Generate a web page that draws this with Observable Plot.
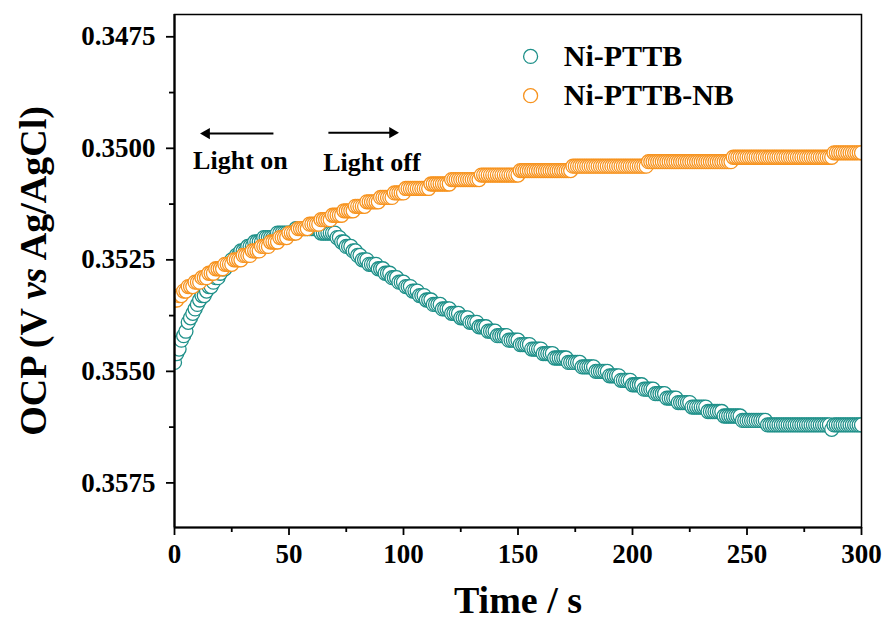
<!DOCTYPE html>
<html><head><meta charset="utf-8">
<script src="https://cdn.jsdelivr.net/npm/d3@7"></script>
<script src="https://cdn.jsdelivr.net/npm/@observablehq/plot@0.6"></script>
<style>html,body{margin:0;padding:0;background:#fff;}</style>
</head><body><div id="chart"></div>
<script>
const seriesNames = ["Ni-PTTB", "Ni-PTTB-NB"];
const seriesColors = ["#1e9089", "#f7931e"];
const timeS = d3.range(0, 301, 1);

const ocpNiPTTB = [
0.3548,0.3546,0.3545,0.3543,0.3542,0.3541,0.3539,0.3538,0.3537,0.3536,
0.3535,0.3534,0.3533,0.3533,0.3532,0.3531,0.3531,0.3530,0.3529,0.3529,
0.3528,0.3527,0.3527,0.3526,0.3526,0.3525,0.3525,0.3524,0.3524,0.3523,
0.3523,0.3523,0.3522,0.3522,0.3522,0.3521,0.3521,0.3521,0.3521,0.3520,
0.3520,0.3520,0.3520,0.3520,0.3520,0.3519,0.3519,0.3519,0.3519,0.3519,
0.3519,0.3519,0.3519,0.3518,0.3518,0.3518,0.3518,0.3518,0.3518,0.3518,
0.3518,0.3518,0.3518,0.3518,0.3519,0.3519,0.3519,0.3519,0.3519,0.3519,
0.3519,0.3520,0.3520,0.3521,0.3521,0.3522,0.3522,0.3522,0.3523,0.3523,
0.3524,0.3524,0.3525,0.3525,0.3525,0.3526,0.3526,0.3526,0.3526,0.3527,
0.3527,0.3527,0.3528,0.3528,0.3528,0.3529,0.3529,0.3529,0.3530,0.3530,
0.3530,0.3531,0.3531,0.3531,0.3532,0.3532,0.3532,0.3533,0.3533,0.3533,
0.3534,0.3534,0.3534,0.3535,0.3535,0.3535,0.3535,0.3536,0.3536,0.3536,
0.3536,0.3537,0.3537,0.3537,0.3537,0.3538,0.3538,0.3538,0.3538,0.3539,
0.3539,0.3539,0.3539,0.3540,0.3540,0.3540,0.3540,0.3541,0.3541,0.3541,
0.3541,0.3542,0.3542,0.3542,0.3542,0.3542,0.3543,0.3543,0.3543,0.3543,
0.3543,0.3544,0.3544,0.3544,0.3544,0.3544,0.3545,0.3545,0.3545,0.3545,
0.3545,0.3546,0.3546,0.3546,0.3546,0.3546,0.3547,0.3547,0.3547,0.3547,
0.3547,0.3547,0.3548,0.3548,0.3548,0.3548,0.3548,0.3548,0.3549,0.3549,
0.3549,0.3549,0.3549,0.3549,0.3550,0.3550,0.3550,0.3550,0.3550,0.3550,
0.3551,0.3551,0.3551,0.3551,0.3551,0.3552,0.3552,0.3552,0.3552,0.3552,
0.3553,0.3553,0.3553,0.3553,0.3553,0.3554,0.3554,0.3554,0.3554,0.3554,
0.3555,0.3555,0.3555,0.3555,0.3555,0.3556,0.3556,0.3556,0.3556,0.3556,
0.3557,0.3557,0.3557,0.3557,0.3557,0.3557,0.3558,0.3558,0.3558,0.3558,
0.3558,0.3558,0.3558,0.3559,0.3559,0.3559,0.3559,0.3559,0.3559,0.3559,
0.3560,0.3560,0.3560,0.3560,0.3560,0.3560,0.3560,0.3560,0.3561,0.3561,
0.3561,0.3561,0.3561,0.3561,0.3561,0.3561,0.3561,0.3561,0.3561,0.3562,
0.3562,0.3562,0.3562,0.3562,0.3562,0.3562,0.3562,0.3562,0.3562,0.3562,
0.3562,0.3562,0.3562,0.3562,0.3562,0.3562,0.3562,0.3562,0.3562,0.3562,
0.3562,0.3562,0.3562,0.3562,0.3562,0.3562,0.3562,0.3563,0.3562,0.3562,
0.3562,0.3562,0.3562,0.3562,0.3562,0.3562,0.3562,0.3562,0.3562,0.3562,
0.3562];

const ocpNiPTTBNB = [
0.3534,0.3534,0.3533,0.3533,0.3532,0.3532,0.3531,0.3531,0.3531,0.3530,
0.3530,0.3530,0.3529,0.3529,0.3529,0.3528,0.3528,0.3528,0.3527,0.3527,
0.3527,0.3527,0.3526,0.3526,0.3526,0.3526,0.3525,0.3525,0.3525,0.3525,
0.3524,0.3524,0.3524,0.3524,0.3523,0.3523,0.3523,0.3523,0.3522,0.3522,
0.3522,0.3522,0.3521,0.3521,0.3521,0.3521,0.3520,0.3520,0.3520,0.3520,
0.3519,0.3519,0.3519,0.3519,0.3518,0.3518,0.3518,0.3518,0.3518,0.3517,
0.3517,0.3517,0.3517,0.3517,0.3516,0.3516,0.3516,0.3516,0.3516,0.3515,
0.3515,0.3515,0.3515,0.3515,0.3514,0.3514,0.3514,0.3514,0.3514,0.3513,
0.3513,0.3513,0.3513,0.3513,0.3512,0.3512,0.3512,0.3512,0.3512,0.3512,
0.3511,0.3511,0.3511,0.3511,0.3511,0.3511,0.3510,0.3510,0.3510,0.3510,
0.3510,0.3509,0.3509,0.3509,0.3509,0.3509,0.3509,0.3509,0.3509,0.3509,
0.3509,0.3509,0.3508,0.3508,0.3508,0.3508,0.3508,0.3508,0.3508,0.3508,
0.3508,0.3507,0.3507,0.3507,0.3507,0.3507,0.3507,0.3507,0.3507,0.3507,
0.3507,0.3507,0.3507,0.3507,0.3506,0.3506,0.3506,0.3506,0.3506,0.3506,
0.3506,0.3506,0.3506,0.3506,0.3506,0.3506,0.3506,0.3506,0.3506,0.3506,
0.3506,0.3505,0.3505,0.3505,0.3505,0.3505,0.3505,0.3505,0.3505,0.3505,
0.3505,0.3505,0.3505,0.3505,0.3505,0.3505,0.3505,0.3505,0.3505,0.3505,
0.3505,0.3505,0.3505,0.3505,0.3504,0.3504,0.3504,0.3504,0.3504,0.3504,
0.3504,0.3504,0.3504,0.3504,0.3504,0.3504,0.3504,0.3504,0.3504,0.3504,
0.3504,0.3504,0.3504,0.3504,0.3504,0.3504,0.3504,0.3504,0.3504,0.3504,
0.3504,0.3504,0.3504,0.3504,0.3504,0.3504,0.3504,0.3503,0.3503,0.3503,
0.3503,0.3503,0.3503,0.3503,0.3503,0.3503,0.3503,0.3503,0.3503,0.3503,
0.3503,0.3503,0.3503,0.3503,0.3503,0.3503,0.3503,0.3503,0.3503,0.3503,
0.3503,0.3503,0.3503,0.3503,0.3503,0.3503,0.3503,0.3503,0.3503,0.3503,
0.3503,0.3503,0.3503,0.3503,0.3502,0.3502,0.3502,0.3502,0.3502,0.3502,
0.3502,0.3502,0.3502,0.3502,0.3502,0.3502,0.3502,0.3502,0.3502,0.3502,
0.3502,0.3502,0.3502,0.3502,0.3502,0.3502,0.3502,0.3502,0.3502,0.3502,
0.3502,0.3502,0.3502,0.3502,0.3502,0.3502,0.3502,0.3502,0.3502,0.3502,
0.3502,0.3502,0.3502,0.3502,0.3502,0.3502,0.3502,0.3502,0.3501,0.3501,
0.3501,0.3501,0.3501,0.3501,0.3501,0.3501,0.3501,0.3501,0.3501,0.3501,
0.3501];

// ---- axes ----
const xDomain = [0, 300];
const yDomain = [0.347, 0.3585];
const xTicks = [0, 50, 100, 150, 200, 250, 300];
const xMinorTicks = [25, 75, 125, 175, 225, 275];
const yTicks = [0.3475, 0.3500, 0.3525, 0.3550, 0.3575];
const yMinorTicks = [0.34875, 0.35125, 0.35375, 0.35625];
const xLabel = "Time / s";
const yLabel = "OCP (V vs Ag/AgCl)";

// ---- annotations (placed in data coordinates) ----
const annotationTexts = ["Light on", "Light off"];
const annotationArrowFrom = [43.2, 67.2];
const annotationArrowTo = [12.7, 96.5];
const annotationHeadRotate = [-90, 90];
const annotationArrowLevel = [0.34967, 0.34965];
const annotationTextTime = [28.8, 86.2];
const annotationTextLevel = [0.35027, 0.35032];
const legendMarkerTime = 155.5;
const legendTextTime = 170;
const legendLevels = [0.34794, 0.34882];

// ---- build tables ----
const seriesValues = [ocpNiPTTB, ocpNiPTTBNB];
const seriesRows = seriesValues.map(vals => timeS.map((t, i) => ({t, v: vals[i]})));
const annotations = annotationTexts.map((name, i) => ({
  name, t1: annotationArrowFrom[i], t2: annotationArrowTo[i], va: annotationArrowLevel[i],
  rot: annotationHeadRotate[i], tt: annotationTextTime[i], vt: annotationTextLevel[i]
}));
const legendRows = seriesNames.map((name, i) => ({name, tm: legendMarkerTime, tt: legendTextTime, v: legendLevels[i]}));

const dotMarks = seriesRows.map((rows, i) =>
  Plot.dot(rows, {x: "t", y: "v", r: 7, stroke: seriesColors[i], fill: "white", strokeWidth: 1.3, clip: true}));
const legendDotMarks = legendRows.map((row, i) =>
  Plot.dot([row], {x: "tm", y: "v", r: 7, stroke: seriesColors[i], fill: "white", strokeWidth: 1.3}));
const headMarks = annotations.map(a =>
  Plot.dot([a], {x: "t2", y: "va", symbol: "triangle", r: 4.2, fill: "black", stroke: "none",
                 rotate: a.rot, dx: a.rot < 0 ? 3 : -3}));

const chart = Plot.plot({
  width: 886, height: 624,
  marginLeft: 174, marginRight: 25, marginTop: 14, marginBottom: 97,
  style: "background:#fff;color:#000;font-family:'Liberation Serif','Times New Roman',serif;font-weight:bold;font-size:27px;",
  x: {domain: xDomain},
  y: {domain: yDomain, reverse: true},
  marks: [
    ...dotMarks,
    Plot.frame({strokeWidth: 1.5}),
    Plot.ruleX([xDomain[0]], {strokeWidth: 2.2}),
    Plot.ruleY([yDomain[1]], {strokeWidth: 2.2}),
    Plot.axisY({ticks: yTicks, tickSize: 8, tickPadding: 11, tickFormat: d => d.toFixed(4), fontSize: 27, strokeWidth: 1.8, label: null}),
    Plot.axisY({ticks: yMinorTicks, tickSize: 5, tickFormat: () => "", strokeWidth: 1.8, label: null}),
    Plot.axisX({ticks: xTicks, tickSize: 8, tickPadding: 8, fontSize: 27, strokeWidth: 1.8, label: null}),
    Plot.axisX({ticks: xMinorTicks, tickSize: 5, tickFormat: () => "", strokeWidth: 1.8, label: null}),
    Plot.link(annotations, {x1: "t1", y1: "va", x2: "t2", y2: "va", strokeWidth: 2}),
    ...headMarks,
    Plot.text(annotations, {x: "tt", y: "vt", text: "name", fontSize: 26, textAnchor: "middle"}),
    ...legendDotMarks,
    Plot.text(legendRows, {x: "tt", y: "v", text: "name", fontSize: 30, textAnchor: "start"}),
    Plot.text([xLabel], {text: d => d, frameAnchor: "bottom", dy: 85, fontSize: 38}),
    Plot.text([yLabel], {text: d => d, frameAnchor: "left", dx: -141, rotate: -90, fontSize: 38, textAnchor: "middle"})
  ]
});

d3.select(chart).selectAll("text").filter(function () { return this.textContent === yLabel; }).each(function () {
  const t = d3.select(this);
  t.text(null).attr("text-anchor", "middle").style("white-space", "pre");
  t.append("tspan").text("OCP (V ");
  t.append("tspan").attr("font-style", "italic").text("vs");
  t.append("tspan").text(" Ag/AgCl)");
});

document.getElementById("chart").appendChild(chart);
</script>
</body></html>
